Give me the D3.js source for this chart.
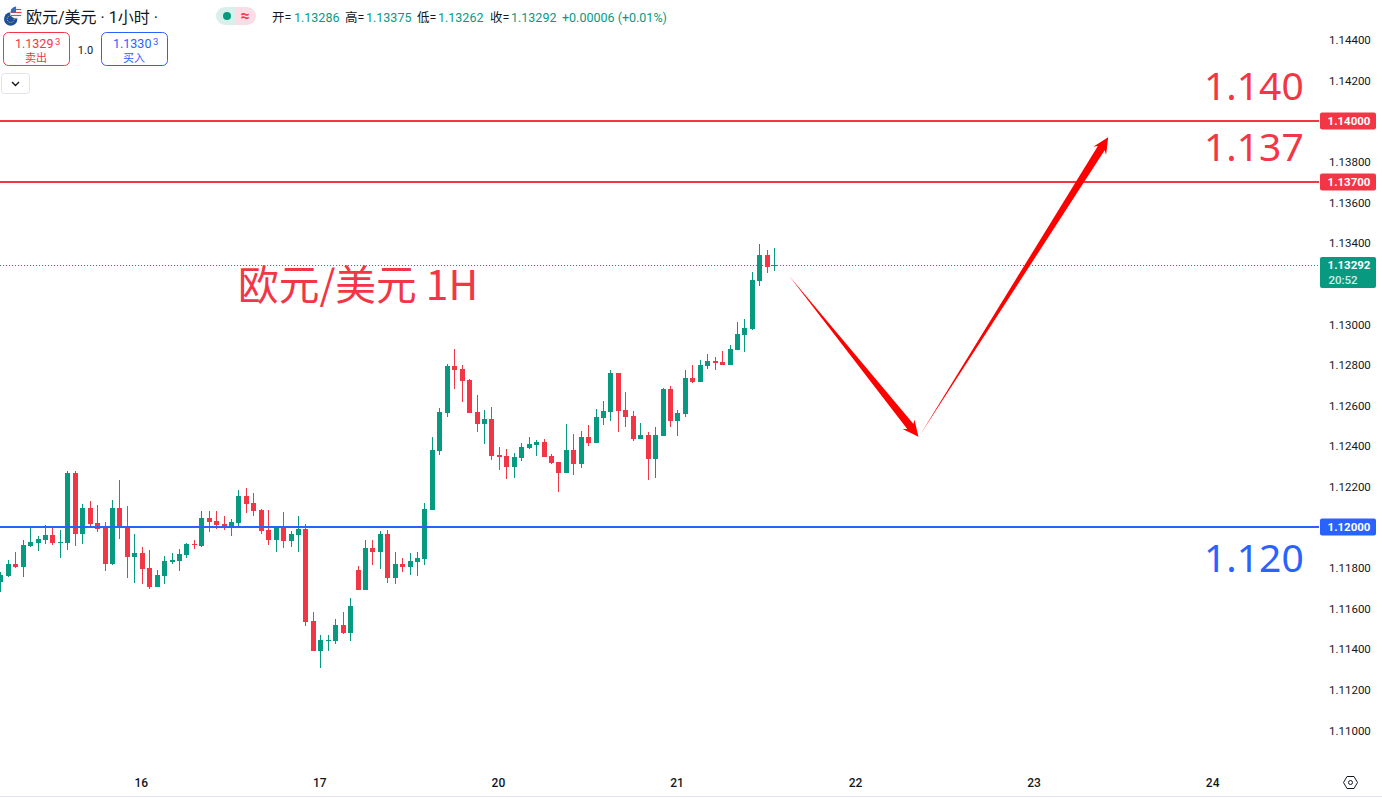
<!DOCTYPE html>
<html>
<head>
<meta charset="utf-8">
<script src="https://d3js.org/d3.v7.min.js"></script>
<style>
body { margin: 0; background: #fff; overflow: hidden; }
text { font-family: Roboto, "Noto Sans CJK SC", sans-serif; }
</style>
</head>
<body>
<div id="chart"></div>
<script>

// candles, one per hour
var opens = [1.11729,1.11759,1.11818,1.11803,1.11906,1.11921,1.11936,1.11961,1.11921,1.11921,
1.12266,1.11965,1.12094,1.12020,1.11995,1.11818,1.12094,1.12000,1.11852,1.11872,
1.11798,1.11704,1.11759,1.11828,1.11832,1.11862,1.11916,1.11906,1.12044,1.12030,
1.12015,1.11996,1.12020,1.12153,1.12119,1.12084,1.11986,1.11936,1.12000,1.11932,
1.11961,1.11991,1.11537,1.11390,1.11439,1.11439,1.11518,1.11478,1.11789,1.11690,
1.11897,1.11877,1.11966,1.11749,1.11818,1.11803,1.11828,1.11843,1.12084,1.12374,
1.12561,1.12793,1.12778,1.12724,1.12566,1.12507,1.12532,1.12355,1.12350,1.12295,
1.12340,1.12389,1.12404,1.12419,1.12350,1.12320,1.12266,1.12379,1.12310,1.12443,
1.12414,1.12537,1.12567,1.12759,1.12577,1.12547,1.12434,1.12453,1.12335,1.12448,
1.12680,1.12522,1.12557,1.12734,1.12714,1.12793,1.12818,1.12813,1.12798,1.12872,
1.12946,1.12976,1.13212,1.13340,1.13286];

var highs = [1.11778,1.11837,1.11877,1.11936,1.11995,1.11956,1.12010,1.11995,1.11985,1.12276,
1.12276,1.12113,1.12128,1.12108,1.12025,1.12133,1.12231,1.12103,1.11965,1.11901,
1.11887,1.11788,1.11857,1.11872,1.11892,1.11921,1.11936,1.12079,1.12079,1.12079,
1.12055,1.12040,1.12183,1.12193,1.12168,1.12089,1.12084,1.12005,1.12074,1.11981,
1.12055,1.12015,1.11582,1.11468,1.11468,1.11547,1.11582,1.11651,1.11808,1.11936,
1.11936,1.11981,1.11986,1.11877,1.11848,1.11872,1.11877,1.12119,1.12443,1.12586,
1.12803,1.12877,1.12798,1.12729,1.12650,1.12576,1.12591,1.12394,1.12384,1.12364,
1.12414,1.12443,1.12428,1.12433,1.12359,1.12320,1.12507,1.12458,1.12473,1.12502,
1.12581,1.12621,1.12774,1.12759,1.12665,1.12572,1.12513,1.12468,1.12493,1.12685,
1.12695,1.12577,1.12774,1.12798,1.12823,1.12852,1.12838,1.12867,1.12897,1.13010,
1.13025,1.13256,1.13394,1.13365,1.13375];

var lows = [1.11680,1.11754,1.11798,1.11754,1.11901,1.11882,1.11916,1.11911,1.11847,1.11887,
1.11906,1.11916,1.12000,1.11975,1.11783,1.11813,1.11941,1.11749,1.11724,1.11719,
1.11695,1.11704,1.11719,1.11818,1.11783,1.11847,1.11892,1.11901,1.11975,1.11990,
1.11986,1.11956,1.12005,1.12069,1.12055,1.11966,1.11912,1.11877,1.11897,1.11902,
1.11877,1.11513,1.11390,1.11306,1.11390,1.11424,1.11473,1.11439,1.11690,1.11690,
1.11813,1.11794,1.11725,1.11720,1.11779,1.11764,1.11759,1.11813,1.12084,1.12355,
1.12542,1.12680,1.12616,1.12561,1.12468,1.12409,1.12330,1.12281,1.12236,1.12241,
1.12325,1.12384,1.12350,1.12345,1.12310,1.12172,1.12266,1.12256,1.12290,1.12399,
1.12414,1.12503,1.12522,1.12468,1.12493,1.12424,1.12434,1.12232,1.12242,1.12448,
1.12493,1.12448,1.12542,1.12710,1.12714,1.12779,1.12774,1.12798,1.12798,1.12872,
1.12862,1.12971,1.13187,1.13251,1.13262];

var closes = [1.11764,1.11818,1.11803,1.11911,1.11926,1.11941,1.11961,1.11921,1.11926,1.12266,
1.11965,1.12094,1.12015,1.11990,1.11818,1.12094,1.11995,1.11852,1.11872,1.11793,
1.11704,1.11764,1.11832,1.11837,1.11867,1.11916,1.11911,1.12044,1.12025,1.12010,
1.11996,1.12025,1.12153,1.12114,1.12079,1.11981,1.11936,1.12000,1.11932,1.11966,
1.11991,1.11532,1.11390,1.11444,1.11444,1.11518,1.11478,1.11611,1.11690,1.11897,
1.11877,1.11966,1.11749,1.11818,1.11803,1.11833,1.11848,1.12089,1.12379,1.12566,
1.12793,1.12773,1.12719,1.12561,1.12507,1.12532,1.12350,1.12345,1.12295,1.12345,
1.12394,1.12409,1.12419,1.12345,1.12315,1.12266,1.12379,1.12310,1.12443,1.12414,
1.12542,1.12572,1.12759,1.12572,1.12542,1.12434,1.12453,1.12335,1.12453,1.12680,
1.12522,1.12562,1.12734,1.12714,1.12798,1.12818,1.12808,1.12798,1.12877,1.12951,
1.12981,1.13217,1.13340,1.13281,1.13292];

// axes
var priceTicks = [1.144,1.142,1.138,1.136,1.134,1.130,1.128,1.126,1.124,1.122,1.118,1.116,1.114,1.112,1.110];
var dayHours = [19,43,67,91,115,139,163];
var dayLabels = ["16","17","20","21","22","23","24"];

// drawn levels
var levelValues = [1.14,1.137,1.12];
var levelNames = ["1.140","1.137","1.120"];
var levelColors = ["#F23645","#F23645","#2962FF"];
var lastPrice = 1.13292;
var countdown = "20:52";

// forecast arrows (hour, price)
var arrowHours = [[106.0,123.4],[123.6,148.9]];
var arrowPrices = [[1.13238,1.12445],[1.12453,1.13920]];

var upColor = "#089981", downColor = "#F23645", textColor = "#131722";

var svg = d3.select("#chart").append("svg")
    .attr("width", 1382)
    .attr("height", 799)
    .style("display", "block");

var x = d3.scaleLinear().domain([0, 163]).range([0.4, 0.4 + 163 * 7.44]);
var y = d3.scaleLinear().domain([1.11, 1.144]).range([730, 39.8]);

// price axis
svg.append("g")
    .attr("transform", "translate(1329,0.5)")
    .call(d3.axisRight(y).tickValues(priceTicks).tickSize(0).tickPadding(0).tickFormat(d3.format(".5f")))
    .call(g => g.select(".domain").remove())
    .selectAll("text")
    .attr("fill", textColor)
    .style("font-size", "11.5px")
    .style("font-family", "Roboto");

// time axis
svg.append("g")
    .attr("transform", "translate(-1,778)")
    .call(d3.axisBottom(x).tickValues(dayHours).tickSize(0).tickPadding(0).tickFormat((d, i) => dayLabels[i]))
    .call(g => g.select(".domain").remove())
    .selectAll("text")
    .attr("fill", textColor)
    .style("font-size", "12px")
    .style("font-weight", "500")
    .style("font-family", "Roboto");

// bottom border
svg.append("rect").attr("x", 0).attr("y", 796).attr("width", 1382).attr("height", 1).attr("fill", "#e0e3eb");

// last price dotted line
svg.append("line")
    .attr("x1", 0).attr("x2", 1320)
    .attr("y1", Math.round(y(lastPrice)) + 0.5).attr("y2", Math.round(y(lastPrice)) + 0.5)
    .attr("stroke", upColor)
    .attr("stroke-dasharray", "1 2");

// candles
var candles = svg.append("g").attr("shape-rendering", "crispEdges")
    .selectAll("g")
    .data(d3.range(opens.length))
    .join("g")
    .attr("fill", i => closes[i] >= opens[i] ? upColor : downColor);

candles.append("rect")
    .attr("x", i => Math.round(x(i)))
    .attr("width", 1)
    .attr("y", i => Math.round(y(highs[i])))
    .attr("height", i => Math.round(y(lows[i])) - Math.round(y(highs[i])));

candles.append("rect")
    .attr("x", i => Math.round(x(i)) - 2)
    .attr("width", 5)
    .attr("y", i => Math.round(y(Math.max(opens[i], closes[i]))))
    .attr("height", i => Math.max(1, Math.round(y(Math.min(opens[i], closes[i]))) - Math.round(y(Math.max(opens[i], closes[i])))));

// level lines
svg.append("g").selectAll("rect")
    .data(levelValues)
    .join("rect")
    .attr("shape-rendering", "crispEdges")
    .attr("x", 0)
    .attr("width", 1319)
    .attr("y", d => Math.round(y(d)) - 1)
    .attr("height", 2)
    .attr("fill", (d, i) => levelColors[i]);

// level tags on the price axis
svg.append("g").selectAll("rect")
    .data(levelValues)
    .join("rect")
    .attr("x", 1320)
    .attr("width", 56)
    .attr("y", d => y(d) - 8.5)
    .attr("height", 17)
    .attr("rx", 2)
    .attr("fill", (d, i) => levelColors[i]);

svg.append("g").selectAll("text")
    .data(levelValues)
    .join("text")
    .attr("x", 1349)
    .attr("y", d => y(d) + 4)
    .attr("text-anchor", "middle")
    .attr("fill", "#fff")
    .style("font-size", "11.5px")
    .style("font-weight", "700")
    .text(d3.format(".5f"));

// last price tag
svg.append("rect").attr("x", 1320).attr("y", 257).attr("width", 56).attr("height", 31).attr("rx", 2).attr("fill", upColor);
svg.append("text").attr("x", 1349).attr("y", 269).attr("text-anchor", "middle").attr("fill", "#fff")
    .style("font-size", "11.5px").style("font-weight", "700").text(d3.format(".5f")(lastPrice));
svg.append("text").attr("x", 1343).attr("y", 284).attr("text-anchor", "middle").attr("fill", "#cfeee8")
    .style("font-size", "11.5px").style("font-weight", "500").text(countdown);

// big level names
svg.append("g").selectAll("text")
    .data(levelNames)
    .join("text")
    .attr("x", 1204)
    .attr("y", (d, i) => [100, 161, 572][i])
    .attr("fill", (d, i) => levelColors[i])
    .style("font-size", "39px")
    .style("font-family", "'Noto Sans'")
    .text(d => d);

svg.append("text")
    .attr("x", 238).attr("y", 300)
    .attr("fill", downColor)
    .style("font-size", "40.7px")
    .style("font-family", "'Noto Sans CJK SC'")
    .text("欧元/美元 1H");

// arrows, tapered from nothing at the tail
function arrowPath(p0, p1) {
    var dx = p1[0] - p0[0], dy = p1[1] - p0[1];
    var len = Math.sqrt(dx * dx + dy * dy);
    var ux = dx / len, uy = dy / len, nx = -uy, ny = ux;
    var at = (back, side) => [p1[0] - ux * back + nx * side, p1[1] - uy * back + ny * side];
    return d3.line()([p0, at(13, 4), at(16, 7.6), p1, at(16, -7.6), at(13, -4)]) + "Z";
}

svg.append("g").selectAll("path")
    .data(arrowHours)
    .join("path")
    .attr("d", (d, i) => arrowPath([x(d[0]), y(arrowPrices[i][0])], [x(d[1]), y(arrowPrices[i][1])]))
    .attr("fill", "#ff0000");

// header
var head = svg.append("g");

// pair icon
head.append("circle").attr("cx", 10.7).attr("cy", 19).attr("r", 6.7).attr("fill", "#1d4f9e");
head.append("circle").attr("cx", 10.7).attr("cy", 19).attr("r", 3.5).attr("fill", "none").attr("stroke", "#f4c542").attr("stroke-dasharray", "1 1.2");
head.append("circle").attr("cx", 16).attr("cy", 12.5).attr("r", 6).attr("fill", "#f3f3f3");
head.append("path").attr("d", "M11 9.5h10M10.5 12.5h11M11 15.5h10").attr("stroke", "#e4424d").attr("stroke-width", 1.2);
head.append("path").attr("d", "M16 6.5a6 6 0 0 0-5.5 6h5.5z").attr("fill", "#3c6ab0");

head.append("text").attr("x", 26).attr("y", 23).attr("fill", textColor)
    .style("font-size", "16px").text("欧元/美元 · 1小时 ·");

// market status pill
head.append("path").attr("d", "M236 7h-11a9 9 0 0 0 0 18h11z").attr("fill", "#d8f0ec");
head.append("path").attr("d", "M236 7h11a9 9 0 0 1 0 18h-11z").attr("fill", "#fbdde5");
head.append("circle").attr("cx", 227).attr("cy", 16).attr("r", 4).attr("fill", upColor);
head.append("text").attr("x", 245).attr("y", 21).attr("text-anchor", "middle").attr("fill", downColor)
    .style("font-size", "16px").style("font-weight", "700").text("≈");

// OHLC readout
var ohlcNames = ["开=","高=","低=","收="];
var ohlcValues = ["1.13286","1.13375","1.13262","1.13292"];
var ohlcNameX = [272,345,417,490];
var ohlcValueX = [294,366,438,511];

head.selectAll(".ohlcName").data(ohlcNames).join("text")
    .attr("class", "ohlcName")
    .attr("x", (d, i) => ohlcNameX[i]).attr("y", 22)
    .attr("fill", textColor)
    .style("font-size", "12.5px")
    .text(d => d);
head.selectAll(".ohlcValue").data(ohlcValues).join("text")
    .attr("class", "ohlcValue")
    .attr("x", (d, i) => ohlcValueX[i]).attr("y", 22)
    .attr("fill", upColor)
    .style("font-size", "12.5px")
    .text(d => d);
head.append("text").attr("x", 562).attr("y", 22).attr("fill", upColor)
    .style("font-size", "12.5px").text("+0.00006 (+0.01%)");

// sell and buy buttons
var quoteX = [3.5,101.5];
var quotePrices = ["1.1329","1.1330"];
var quoteNames = ["卖出","买入"];
var quoteColors = ["#F23645","#2962FF"];

var quote = head.selectAll(".quote").data(quotePrices).join("g")
    .attr("class", "quote")
    .attr("transform", (d, i) => `translate(${quoteX[i]},32.5)`);
quote.append("rect").attr("width", 66).attr("height", 33).attr("rx", 5)
    .attr("fill", "#fff").attr("stroke", (d, i) => quoteColors[i]);
quote.append("text").attr("x", 11.5).attr("y", 15)
    .attr("fill", (d, i) => quoteColors[i])
    .style("font-size", "12.5px")
    .text(d => d);
quote.append("text").attr("x", 51.5).attr("y", 12)
    .attr("fill", (d, i) => quoteColors[i])
    .style("font-size", "9.5px")
    .text("3");
quote.append("text").attr("x", 32.5).attr("y", 29).attr("text-anchor", "middle")
    .attr("fill", (d, i) => quoteColors[i])
    .style("font-size", "11px")
    .text((d, i) => quoteNames[i]);

head.append("text").attr("x", 85.5).attr("y", 54).attr("text-anchor", "middle").attr("fill", textColor)
    .style("font-size", "11px").text("1.0");

// collapse button
head.append("rect").attr("x", 1.5).attr("y", 73.5).attr("width", 28).attr("height", 20).attr("rx", 3)
    .attr("fill", "#fff").attr("stroke", "#e0e3eb");
head.append("path").attr("d", "M12 82l3.5 3.5 3.5-3.5").attr("fill", "none").attr("stroke", textColor).attr("stroke-width", 1.4);

// settings icon
svg.append("path").attr("d", "M1343.5 782.5l3.5-6h7l3.5 6-3.5 6h-7z").attr("fill", "none").attr("stroke", textColor);
svg.append("circle").attr("cx", 1350.5).attr("cy", 782.5).attr("r", 2).attr("fill", "none").attr("stroke", textColor);

</script>
</body>
</html>
